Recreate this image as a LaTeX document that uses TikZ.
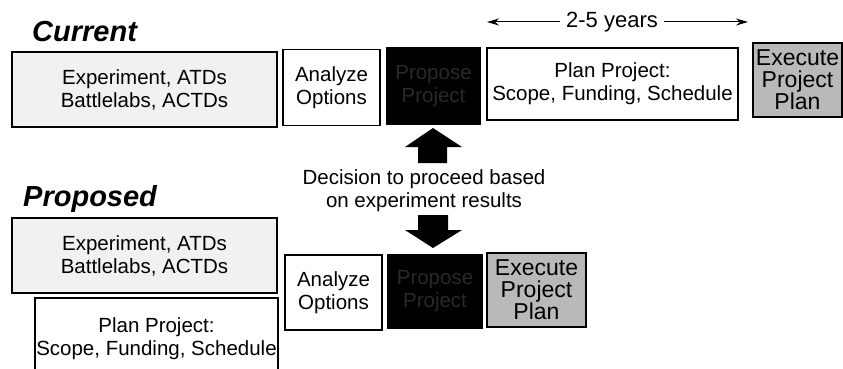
\documentclass[tikz,border=0pt]{standalone}
\usepackage{fontspec}
\setmainfont{Liberation Sans}
\usetikzlibrary{arrows.meta}
\begin{document}
\begin{tikzpicture}[x=1pt,y=-1pt,
  box/.style={draw=black, line width=1.3pt, inner sep=0pt, align=center,
    font=\fontsize{20.5}{23}\selectfont},
  title/.style={font=\fontsize{29}{32}\selectfont\bfseries\itshape, anchor=base west, inner sep=0pt},
  blk/.style={fill=black, text=white!16!black},
  light/.style={fill=gray!11},
  mid/.style={fill=gray!55, font=\fontsize{23}{22}\selectfont},
  bigarrow/.style={fill=black, draw=none},
  span/.style={line width=1pt, -{Stealth[length=12pt,width=7pt]}},
  lbl/.style={font=\fontsize{20.5}{23}\selectfont, align=center, inner sep=0pt}]
\clip (0,0) rectangle (843,369);
\fill[white] (0,0) rectangle (843,369);

% titles
\node[title] (cur) at (32,42) {Current};
\node[title] (prop) at (23,206) {Proposed};

% current row
\node[box, light, minimum width=265, minimum height=75] (e1) at (144.5,89.5) {Experiment, ATDs\\Battlelabs, ACTDs};
\node[box, minimum width=97, minimum height=76] (a1) at (331.5,87.5) {Analyze\\Options};
\node[box, blk, minimum width=93, minimum height=76] (p1) at (433.5,86) {Propose\\Project};
\node[box, minimum width=251, minimum height=72] (pl1) at (612.5,84) {Plan Project:\\Scope, Funding, Schedule};
\node[box, mid, minimum width=89, minimum height=74] (x1) at (797.5,80) {Execute\\Project\\Plan};

% 2-5 years
\coordinate (yl) at (487,22);
\coordinate (yr) at (748,22);
\node[font=\fontsize{22}{24}\selectfont, inner sep=6pt, fill=white] (yrs) at (612,22) {2-5 years};
\draw[span] (yrs.west) -- (yl);
\draw[span] (yrs.east) -- (yr);

% decision
\node[lbl] (dec) at (424,191) {Decision to proceed based\\on experiment results};
\fill[bigarrow] (433,128) -- (405,147) -- (418,147) -- (418,163) -- (447,163) -- (447,147) -- (462,147) -- cycle;
\fill[bigarrow] (418,215) -- (448,215) -- (448,230) -- (462,230) -- (433,248) -- (405,230) -- (418,230) -- cycle;

% proposed rows
\node[box, light, minimum width=265, minimum height=75] (e2) at (144.5,255.5) {Experiment, ATDs\\Battlelabs, ACTDs};
\node[box, fill=white, minimum width=243, minimum height=82] (pl2) at (156.5,339) {Plan Project:\\Scope, Funding, Schedule};
\node[box, minimum width=97, minimum height=75] (a2) at (333.5,292.5) {Analyze\\Options};
\node[box, blk, minimum width=94, minimum height=73] (p2) at (435,291.5) {Propose\\Project};
\node[box, mid, minimum width=99, minimum height=74] (x2) at (536.5,290) {Execute\\Project\\Plan};
\end{tikzpicture}
\end{document}
